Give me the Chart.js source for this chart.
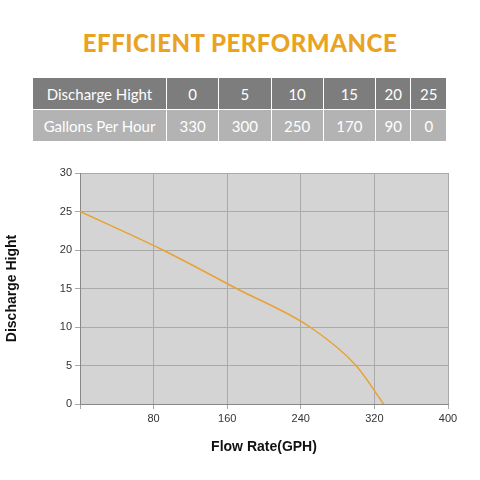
<!DOCTYPE html>
<html><head><meta charset="utf-8">
<script src="https://cdn.jsdelivr.net/npm/chart.js@4/dist/chart.umd.min.js"></script>
<style>
body{margin:0;width:480px;height:480px;background:#fff;font-family:Lato,"Open Sans",sans-serif;position:relative;overflow:hidden}
h1{position:absolute;top:28px;left:0;width:480px;margin:0;text-align:center;color:#e9a322;font-size:24px;font-weight:900;letter-spacing:0.5px}
table{position:absolute;left:32px;top:77px;width:415px;border-collapse:collapse;color:#fff;font-size:15px}
td{height:31px;text-align:center;border:1px solid #fff;padding:0}
tr.a td{background:#7d7d7d}
tr.b td{background:#b3b3b3}
#wrap{position:absolute;left:0;top:160px;width:480px;height:300px}
</style></head><body>
<h1>EFFICIENT PERFORMANCE</h1>
<table id="tbl"></table>
<div id="wrap"><canvas id="c"></canvas></div>
<script>
const heights = [0, 5, 10, 15, 20, 25];
const gallons = [330, 300, 250, 170, 90, 0];
const xTicks = [0, 80, 160, 240, 320, 400];

// table rows
const tbl = document.getElementById('tbl');
tbl.innerHTML =
  '<tr class="a"><td style="width:133px">Discharge Hight</td>' + heights.map(h => `<td>${h}</td>`).join('') + '</tr>' +
  '<tr class="b"><td>Gallons Per Hour</td>' + gallons.map(g => `<td>${g}</td>`).join('') + '</tr>';

const bgPlugin = {
  id: 'bg',
  beforeDraw(chart) {
    const { ctx, chartArea: a } = chart;
    ctx.save();
    ctx.fillStyle = '#d4d4d4';
    ctx.fillRect(a.left, a.top, a.right - a.left, a.bottom - a.top);
    ctx.restore();
  }
};

new Chart(document.getElementById('c'), {
  type: 'line',
  data: {
    datasets: [{
      data: gallons.map((g, i) => ({ x: g, y: heights[i] })),
      borderColor: '#e8a233',
      borderWidth: 1.5,
      pointRadius: 0,
      cubicInterpolationMode: 'monotone'
    }]
  },
  options: {
    responsive: true,
    maintainAspectRatio: false,
    animation: false,
    layout: { padding: { top: 13, right: 32 } },
    plugins: { legend: { display: false }, tooltip: { enabled: false } },
    scales: {
      x: {
        type: 'linear', min: 0, max: 400,
        afterBuildTicks: s => { s.ticks = xTicks.map(v => ({ value: v })); },
        afterFit: s => { s.height = 56; },
        grid: { color: '#a9a9a9', drawTicks: true, tickLength: 5 },
        border: { color: '#888' },
        ticks: { color: '#333', font: { size: 11 }, callback: v => v === 0 ? '' : v },
        title: { display: true, text: 'Flow Rate(GPH)', color: '#111', font: { size: 14, weight: 'bold' } }
      },
      y: {
        min: 0, max: 30,
        afterFit: s => { s.width = 80; },
        grid: { color: '#a9a9a9', tickLength: 5 },
        border: { color: '#888' },
        ticks: { stepSize: 5, color: '#333', font: { size: 11 } },
        title: { display: true, text: 'Discharge Hight', color: '#111', font: { size: 14, weight: 'bold' } }
      }
    }
  },
  plugins: [bgPlugin]
});
</script>
</body></html>
